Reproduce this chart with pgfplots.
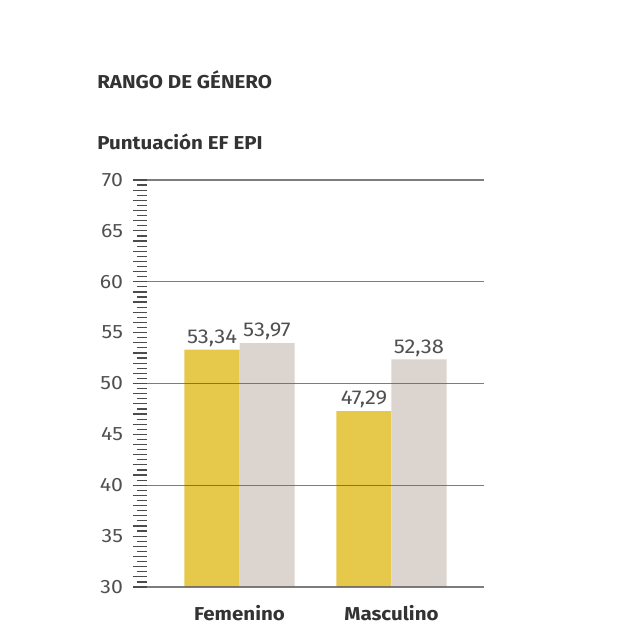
\documentclass[border=0pt]{standalone}
\usepackage{pgfplots}
\pgfplotsset{compat=1.18}
\usepackage{fontspec}
\setmainfont{Fira Sans}[FakeStretch=1.1]
\definecolor{baryellow}{HTML}{E6C84B}
\definecolor{barbeige}{HTML}{DCD4CE}
\definecolor{txtdark}{HTML}{333333}
\definecolor{txtmid}{HTML}{505050}
\begin{document}
\begin{tikzpicture}[x=0.75pt,y=0.75pt]
\useasboundingbox (0,0) rectangle (640,644);
\node[anchor=west,text=txtdark,font=\fontsize{14}{16}\selectfont\bfseries,inner sep=0pt] at (97,564) {RANGO DE GÉNERO};
\node[anchor=west,text=txtdark,font=\fontsize{14}{16}\selectfont\bfseries,inner sep=0pt] at (97,502) {Puntuación EF EPI};
\begin{axis}[
  at={(110.25pt,42.75pt)}, anchor=south west,
  scale only axis, width=252.75pt, height=305.25pt,
  xmin=-0.6086, xmax=1.6086, ymin=30, ymax=70,
  axis lines=left,
  x axis line style={draw=none}, y axis line style={draw=none},
  xtick={0,1}, xticklabels={Femenino,Masculino},
  xtick style={draw=none},
  xticklabel style={font=\fontsize{14}{16}\selectfont\bfseries, text=txtdark, yshift=0pt},
  ytick={30,35,...,70},
  minor ytick={30.5,31,...,69.5},
  extra y ticks={31,32,...,69},
  extra y tick labels={},
  extra tick style={major tick length=10.5pt, grid=none},
  tick align=outside, ytick pos=left,
  major tick length=10.5pt, minor tick length=7.5pt,
  every tick/.style={line width=0.9pt, color=black!70},
  yticklabel style={font=\fontsize{14.5}{16}\selectfont, text=txtmid, xshift=-4pt},
  /pgf/number format/assume math mode=true,
  clip=false,
  nodes near coords={\pgfmathprintnumber[fixed,fixed zerofill,precision=2,use comma,assume math mode=true]{\pgfplotspointmeta}},
  every node near coord/.append style={font=\fontsize{15}{17}\selectfont, text=txtmid, inner sep=2pt},
]
\addplot[ybar, bar width=0.362, bar shift=-0.181, fill=baryellow, draw=none,
  every node near coord/.append style={xshift=-20.6pt}] coordinates {(0,53.34) (1,47.29)};
\addplot[ybar, bar width=0.362, bar shift=0.181, fill=barbeige, draw=none,
  every node near coord/.append style={xshift=20.6pt}] coordinates {(0,53.97) (1,52.38)};
\foreach \g in {30,40,50,60,70} {
  \edef\temp{\noexpand\draw[black!60, line width=0.8pt, opacity=0.85] (axis cs:-0.6086,\g) -- (axis cs:1.6086,\g);}
  \temp
}
\end{axis}
\end{tikzpicture}
\end{document}
